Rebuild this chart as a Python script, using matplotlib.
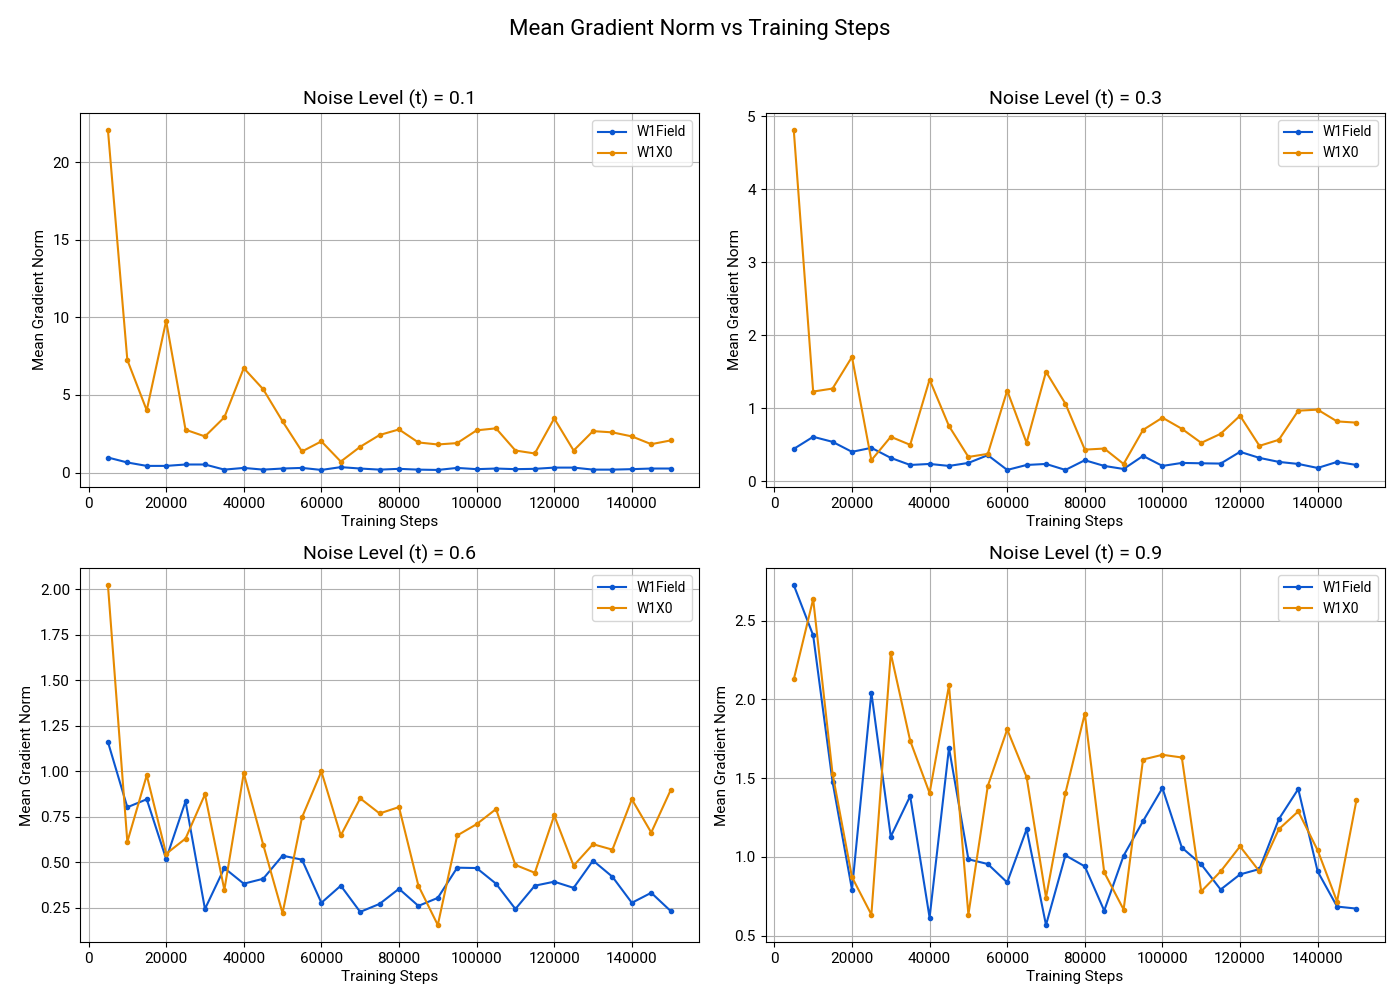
import matplotlib
matplotlib.use("Agg")
import matplotlib.pyplot as plt
import numpy as np

plt.rcParams['font.family'] = ['Roboto', 'DejaVu Sans']

steps = list(range(5000, 150001, 5000))

t01_w1field = [0.97, 0.65, 0.43, 0.43, 0.52, 0.52, 0.19, 0.30, 0.19, 0.26,
               0.30, 0.17, 0.35, 0.26, 0.19, 0.24, 0.19, 0.17, 0.30, 0.22,
               0.26, 0.22, 0.24, 0.32, 0.32, 0.19, 0.19, 0.22, 0.26, 0.26]
t01_w1x0 = [22.07, 7.25, 4.01, 9.77, 2.76, 2.33, 3.56, 6.73, 5.37, 3.30,
            1.36, 2.01, 0.71, 1.66, 2.42, 2.78, 1.94, 1.81, 1.90, 2.72,
            2.85, 1.42, 1.23, 3.49, 1.42, 2.67, 2.59, 2.33, 1.83, 2.07]

t03_w1field = [0.44, 0.606, 0.537, 0.40, 0.455, 0.317, 0.22, 0.234, 0.207, 0.248,
               0.354, 0.152, 0.22, 0.234, 0.152, 0.285, 0.207, 0.165, 0.344, 0.207,
               0.248, 0.243, 0.239, 0.40, 0.317, 0.262, 0.234, 0.179, 0.262, 0.22]
t03_w1x0 = [4.81, 1.226, 1.267, 1.70, 0.285, 0.606, 0.496, 1.39, 0.753, 0.33,
            0.372, 1.24, 0.523, 1.497, 1.06, 0.43, 0.445, 0.234, 0.70, 0.868,
            0.716, 0.523, 0.647, 0.895, 0.482, 0.565, 0.964, 0.978, 0.817, 0.80]

t06_w1field = [1.162, 0.803, 0.847, 0.519, 0.836, 0.244, 0.469, 0.383, 0.41, 0.537,
               0.515, 0.278, 0.372, 0.228, 0.272, 0.355, 0.261, 0.305, 0.471, 0.469,
               0.383, 0.244, 0.372, 0.394, 0.36, 0.51, 0.421, 0.278, 0.333, 0.233]
t06_w1x0 = [2.024, 0.613, 0.979, 0.547, 0.631, 0.874, 0.349, 0.99, 0.598, 0.221,
            0.747, 1.0, 0.648, 0.852, 0.769, 0.804, 0.372, 0.156, 0.648, 0.71,
            0.793, 0.486, 0.443, 0.758, 0.482, 0.60, 0.57, 0.847, 0.664, 0.897]

t09_w1field = [2.725, 2.406, 1.476, 0.793, 2.043, 1.129, 1.386, 0.615, 1.692, 0.985,
               0.955, 0.838, 1.176, 0.568, 1.01, 0.94, 0.659, 1.008, 1.227, 1.437,
               1.059, 0.953, 0.793, 0.889, 0.923, 1.24, 1.431, 0.908, 0.685, 0.672]
t09_w1x0 = [2.126, 2.636, 1.527, 0.872, 0.634, 2.292, 1.737, 1.405, 2.088, 0.634,
            1.45, 1.809, 1.507, 0.742, 1.405, 1.909, 0.902, 0.666, 1.618, 1.648,
            1.631, 0.781, 0.908, 1.067, 0.908, 1.176, 1.289, 1.042, 0.717, 1.361]

noise_levels = ["0.1", "0.3", "0.6", "0.9"]
series_field = [t01_w1field, t03_w1field, t06_w1field, t09_w1field]
series_x0 = [t01_w1x0, t03_w1x0, t06_w1x0, t09_w1x0]

blue = "#0b57d0"
orange = "#e68a00"

fig, axes = plt.subplots(2, 2, figsize=(14, 10), dpi=100)
for ax, t, f, x0 in zip(axes.flat, noise_levels, series_field, series_x0):
    ax.plot(steps, f, marker='o', markersize=3, linewidth=1.5, color=blue, label="W1Field")
    ax.plot(steps, x0, marker='o', markersize=3, linewidth=1.5, color=orange, label="W1X0")
    ax.set_title(f"Noise Level (t) = {t}", fontsize=14)
    ax.set_xlabel("Training Steps", fontsize=11, labelpad=3)
    ax.set_ylabel("Mean Gradient Norm", fontsize=11)
    ax.grid(True)
    ax.legend(loc="upper right", fontsize=10)
    ax.tick_params(labelsize=11)

fig.suptitle("Mean Gradient Norm vs Training Steps", fontsize=16, y=0.981)
fig.subplots_adjust(left=0.057, right=0.989, top=0.887, bottom=0.058,
                    wspace=0.108, hspace=0.217)
fig.savefig("out.png", dpi=100)
